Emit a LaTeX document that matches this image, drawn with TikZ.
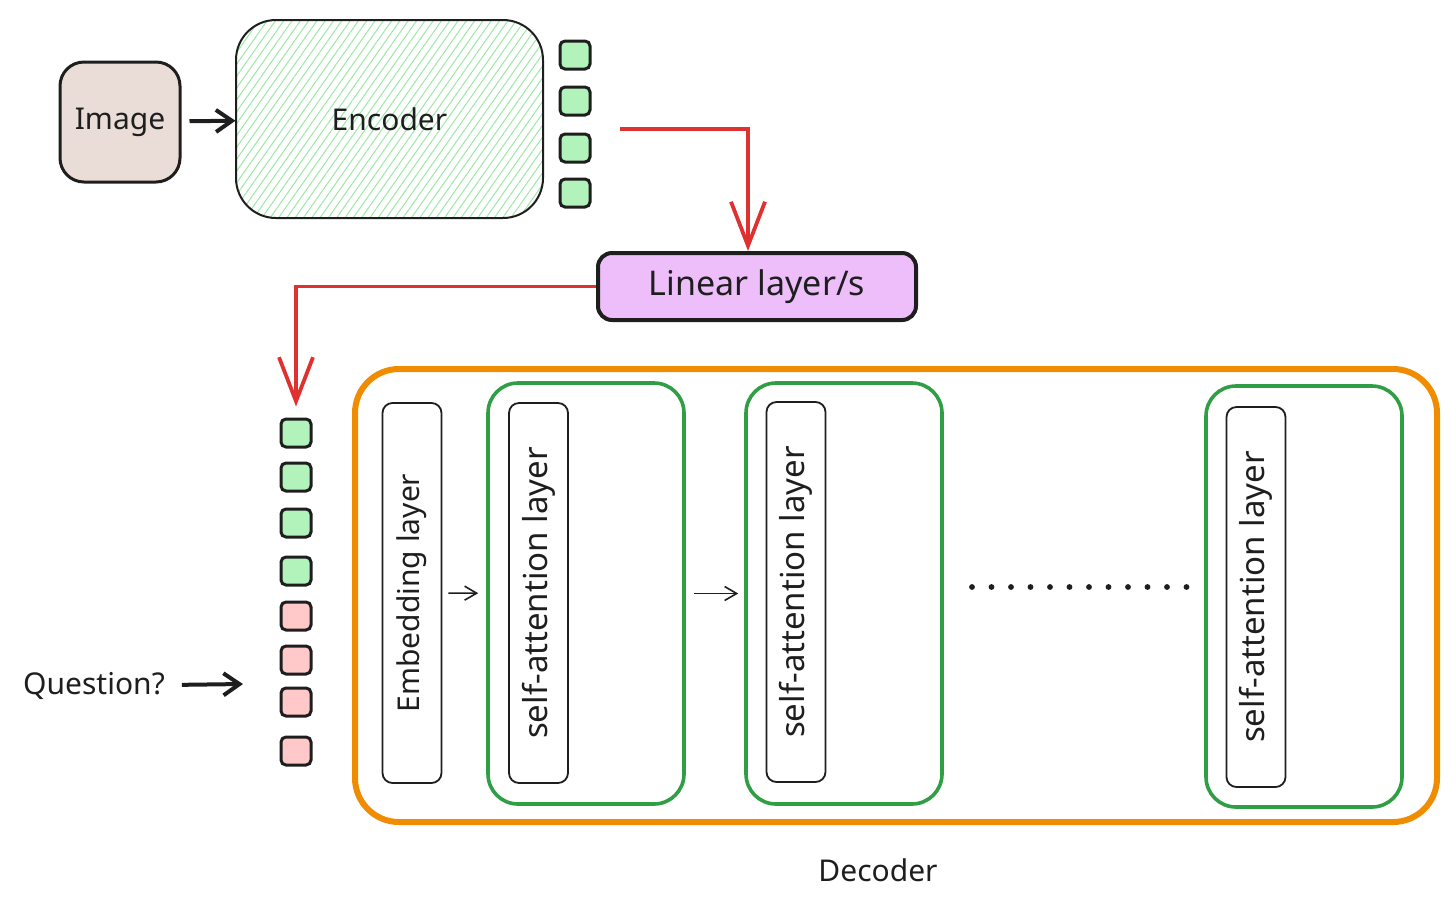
\documentclass[tikz,border=0pt]{standalone}
\usepackage{fontspec}
\setmainfont{Noto Sans}
\usetikzlibrary{arrows.meta,patterns.meta,calc}
\definecolor{ink}{HTML}{1E1E1E}
\definecolor{imgfill}{HTML}{EADDD7}
\definecolor{tokgreen}{HTML}{B2F2BB}
\definecolor{hatchgreen}{HTML}{9BE8A6}
\definecolor{tokpink}{HTML}{FFC9C9}
\definecolor{linfill}{HTML}{EEBEFA}
\definecolor{xred}{HTML}{E03131}
\definecolor{xorange}{HTML}{F08C00}
\definecolor{blockgreen}{HTML}{2F9E44}
\begin{document}
\begin{tikzpicture}[x=0.5pt,y=-0.5pt,
  lbl/.style={font=\fontsize{15}{18}\selectfont, text=ink},
  token/.style={draw=ink, line width=1.5pt, rounded corners=2.5pt, minimum width=15pt, minimum height=14pt, inner sep=0pt},
  imgtok/.style={token, fill=tokgreen},
  qtok/.style={token, fill=tokpink},
  redarrow/.style={draw=xred, line width=1.9pt, -{Straight Barb[length=22pt,width=17pt]}},
  blackarrow/.style={draw=ink, line width=2pt, -{Straight Barb[length=8pt,width=11pt]}},
  thinarrow/.style={draw=ink, line width=0.8pt, -{Straight Barb[length=6pt,width=7pt]}},
  layerbox/.style={draw=ink, line width=0.9pt, rounded corners=5pt, rotate=90, minimum width=190pt, minimum height=29.5pt, inner sep=0pt, lbl},
  block/.style={draw=blockgreen, line width=1.8pt, rounded corners=15pt, minimum width=98pt, minimum height=210.5pt},
  dotline/.style={draw=ink, line width=2.9pt, line cap=round, dash pattern=on 0pt off 9.75pt}
]
\useasboundingbox (0,0) rectangle (1456,912);

% top row
\node[lbl, draw=ink, line width=1.5pt, fill=imgfill, rounded corners=12pt, minimum width=60pt, minimum height=60pt] (img) at (120,122) {Image};
\node[lbl, draw=ink, line width=1pt, rounded corners=20pt, minimum width=153.5pt, minimum height=99pt,
      pattern={Lines[angle=55,distance=3.4pt,line width=0.5pt]}, pattern color=hatchgreen] (enc) at (389.5,119) {};
\node[lbl] (enclbl) at (389.5,119) {Encoder};

\node[imgtok] (e1) at (575,55) {};
\node[imgtok] (e2) at (575,101) {};
\node[imgtok] (e3) at (575,148) {};
\node[imgtok] (e4) at (575,193) {};

\node[lbl, font=\fontsize{17}{20}\selectfont, draw=ink, line width=2pt, fill=linfill, rounded corners=7pt, minimum width=159pt, minimum height=33.5pt] (lin) at (757,286.5) {Linear layer/s};

% token column
\node[imgtok] (q1) at (296,433) {};
\node[imgtok] (q2) at (296,477) {};
\node[imgtok] (q3) at (296,523) {};
\node[imgtok] (q4) at (296,571) {};
\node[qtok] (q5) at (296,616) {};
\node[qtok] (q6) at (296,660) {};
\node[qtok] (q7) at (296,702) {};
\node[qtok] (q8) at (296,751) {};

\node[lbl] (qst) at (94,686) {Question?};
\coordinate (qa) at (243,684);

% decoder
\node[draw=xorange, line width=3pt, rounded corners=22pt, minimum width=541pt, minimum height=226.5pt] (dec) at (896,595.5) {};
\node[lbl] (declbl) at (878,870) {Decoder};

\node[layerbox] (emb) at (412,593) {Embedding layer};
\node[block] (g1) at (586,593.5) {};
\node[layerbox, font=\fontsize{16.5}{19}\selectfont] (s1) at (538.5,593) {self-attention layer};
\node[block] (g2) at (844,593.5) {};
\node[layerbox, font=\fontsize{16.5}{19}\selectfont] (s2) at (796,592) {self-attention layer};
\node[block] (g3) at (1304,596.5) {};
\node[layerbox, font=\fontsize{16.5}{19}\selectfont] (s3) at (1256,597) {self-attention layer};

\coordinate (d1) at (972,587);
\coordinate (d2) at (1190,587);

% connectors
\draw[blackarrow, shorten <=4pt] (img) -- (enc);
\coordinate (r0) at (620,129);
\draw[redarrow] (r0) -| ([xshift=-4.5pt]lin.north);
\draw[redarrow, shorten >=5.5pt] (lin.west) -| (q1.north);
\draw[blackarrow, shorten <=5pt] (qst) -- (qa);
\draw[thinarrow, shorten <=3pt, shorten >=4pt] (emb) -- (g1);
\draw[thinarrow, shorten <=4pt, shorten >=3pt] (g1) -- (g2);
\draw[dotline] (d1) -- (d2);
\end{tikzpicture}
\end{document}
